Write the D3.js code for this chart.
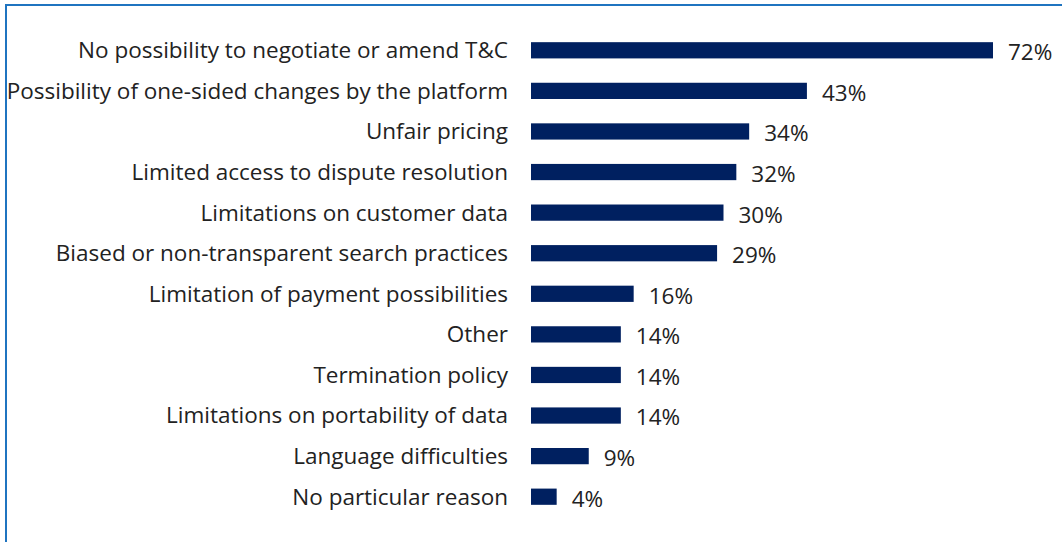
<!DOCTYPE html>
<html><head><meta charset="utf-8">
<script src="https://cdn.jsdelivr.net/npm/d3@7"></script>
<style>body{margin:0;background:#fff;overflow:hidden}svg{display:block}</style>
</head><body>
<svg id="c" width="1062" height="542"></svg>
<script>
const categories = [
  "No possibility to negotiate or amend T&C",
  "Possibility of one-sided changes by the platform",
  "Unfair pricing",
  "Limited access to dispute resolution",
  "Limitations on customer data",
  "Biased or non-transparent search practices",
  "Limitation of payment possibilities",
  "Other",
  "Termination policy",
  "Limitations on portability of data",
  "Language difficulties",
  "No particular reason"
];
const values = [72, 43, 34, 32, 30, 29, 16, 14, 14, 14, 9, 4];

const svg = d3.select("#c");
// frame
svg.append("path").attr("d","M6,542 V5 H1062").attr("fill","none").attr("stroke","#1f74c0").attr("stroke-width",2);

const x = d3.scaleLinear().domain([0, 72]).range([531, 993]);
const y = d3.scaleBand().domain(categories).range([30, 517]).paddingInner(0.6).paddingOuter(0.3);

const font = "'Open Sans', sans-serif";
svg.selectAll("rect.bar").data(values).join("rect")
  .attr("class","bar")
  .attr("x", x(0))
  .attr("y", (d,i) => y(categories[i]))
  .attr("width", d => x(d) - x(0))
  .attr("height", y.bandwidth())
  .attr("fill", "#002060");

svg.selectAll("text.cat").data(categories).join("text")
  .attr("class","cat")
  .attr("x", 508)
  .attr("y", d => y(d) + y.bandwidth()/2)
  .attr("dy","0.35em")
  .attr("text-anchor","end")
  .attr("font-family", font).attr("font-size", 22.5).attr("fill","#222")
  .text(d => d);

svg.selectAll("text.val").data(values).join("text")
  .attr("class","val")
  .attr("x", d => x(d) + 15)
  .attr("y", (d,i) => y(categories[i]) + y.bandwidth()/2 + 2)
  .attr("dy","0.35em")
  .attr("font-family", font).attr("font-size", 22.5).attr("fill","#222")
  .text(d => d + "%");
</script>
</body></html>
